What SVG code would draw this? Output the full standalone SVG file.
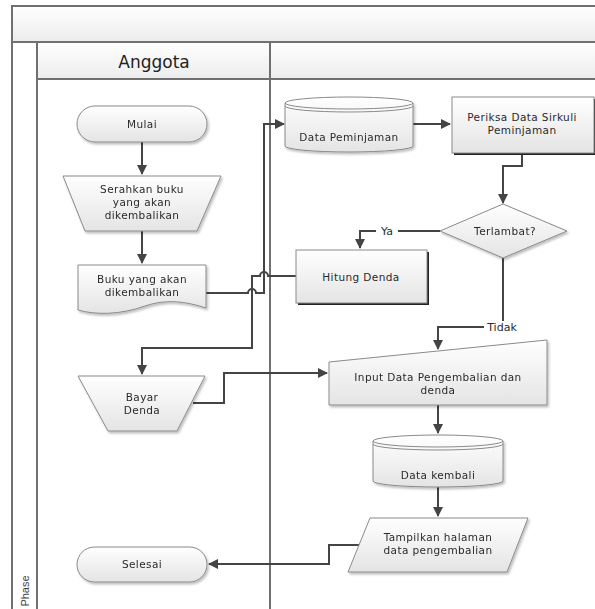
<svg xmlns="http://www.w3.org/2000/svg" width="595" height="609" viewBox="0 0 595 609">
<style>
.lane{fill:none;stroke:#707070;stroke-width:2}
.shape{fill:url(#g);stroke:#8a8a8a;stroke-width:1}
.conn{fill:none;stroke:#444;stroke-width:2}
.t{font-family:"DejaVu Sans",sans-serif;font-size:10.5px;letter-spacing:0.4px;fill:#2a2a2a;text-anchor:middle}
.lbl{font-family:"DejaVu Sans",sans-serif;font-size:11px;fill:#2a2a2a;text-anchor:middle}
</style>
<defs>
<linearGradient id="g" x1="0" y1="0" x2="0" y2="1"><stop offset="0" stop-color="#ffffff"/><stop offset="1" stop-color="#e4e4e4"/></linearGradient>
<linearGradient id="hg" x1="0" y1="0" x2="0" y2="1"><stop offset="0" stop-color="#ffffff"/><stop offset="1" stop-color="#ececec"/></linearGradient>
<marker id="a" viewBox="0 0 10 10" refX="9" refY="5" markerWidth="5" markerHeight="5" orient="auto"><path d="M0,0 L10,5 L0,10 Z" fill="#444"/></marker>
<filter id="sh" x="-10%" y="-10%" width="130%" height="140%"><feDropShadow dx="1.5" dy="2" stdDeviation="1" flood-color="#000" flood-opacity="0.25"/></filter>
</defs>
<rect width="595" height="609" fill="#fff"/>
<g id="swimlanes">
<rect x="12" y="6" width="590" height="36" fill="url(#hg)" stroke="#707070" stroke-width="2"/>
<rect x="37" y="42" width="565" height="37" fill="url(#hg)" stroke="#707070" stroke-width="2"/>
<line class="lane" x1="12" y1="6" x2="12" y2="609"/>
<line class="lane" x1="37" y1="42" x2="37" y2="609"/>
<line class="lane" x1="270" y1="42" x2="270" y2="609"/>
<text x="154" y="68" font-family="DejaVu Sans,sans-serif" font-size="17" fill="#222" text-anchor="middle">Anggota</text>
<text transform="translate(29,591) rotate(-90)" font-family="Liberation Sans Narrow,Liberation Sans,sans-serif" font-size="11" fill="#444" text-anchor="middle">Phase</text>
</g>
<g id="connectors">
<line class="conn" x1="142" y1="142" x2="142" y2="174" marker-end="url(#a)"/>
<line class="conn" x1="142" y1="231" x2="142" y2="263" marker-end="url(#a)"/>
<path class="conn" d="M206,293 H248 A4,4 0 0 1 256,293 H264 V124 H284" marker-end="url(#a)"/>
<line class="conn" x1="413" y1="124" x2="450" y2="124" marker-end="url(#a)"/>
<path class="conn" d="M522,153 V166 H503 V203" marker-end="url(#a)"/>
<path class="conn" d="M440,231 H360 V248" marker-end="url(#a)"/>
<path class="conn" d="M296,276 H268 A4,4 0 0 0 260,276 H252 V348 H142 V374" marker-end="url(#a)"/>
<path class="conn" d="M503,258 V327 H438 V349" marker-end="url(#a)"/>
<path class="conn" d="M193,403 H224 V373 H327" marker-end="url(#a)"/>
<line class="conn" x1="438" y1="405" x2="438" y2="433" marker-end="url(#a)"/>
<line class="conn" x1="438" y1="487" x2="438" y2="516" marker-end="url(#a)"/>
<path class="conn" d="M359,545 H329 V564 H209" marker-end="url(#a)"/>
<rect x="376" y="225" width="22" height="12" fill="#fff"/>
<text class="lbl" x="387" y="235">Ya</text>
<rect x="484" y="321" width="36" height="12" fill="#fff"/>
<text class="lbl" x="502" y="331">Tidak</text>
</g>
<g id="mulai" filter="url(#sh)">
<rect class="shape" x="77" y="106" width="130" height="36" rx="18"/>
<text class="t" x="142" y="128">Mulai</text>
</g>
<g id="serahkan" filter="url(#sh)">
<polygon class="shape" points="63,176 221,176 197,231 85,231"/>
<text class="t" x="142" y="193">Serahkan buku</text>
<text class="t" x="142" y="206">yang akan</text>
<text class="t" x="142" y="219">dikembalikan</text>
</g>
<g id="buku" filter="url(#sh)">
<path class="shape" d="M78,265 H206 V308 C185,301 165,299 145,306 C120,315 95,315 78,310 Z"/>
<text class="t" x="142" y="283">Buku yang akan</text>
<text class="t" x="142" y="296">dikembalikan</text>
</g>
<g id="bayar" filter="url(#sh)">
<polygon class="shape" points="78,376 205,376 177,431 108,431"/>
<text class="t" x="142" y="401">Bayar</text>
<text class="t" x="142" y="414">Denda</text>
</g>
<g id="selesai" filter="url(#sh)">
<rect class="shape" x="77" y="547" width="130" height="35" rx="17.5"/>
<text class="t" x="142" y="568">Selesai</text>
</g>
<g id="datapeminjaman" filter="url(#sh)">
<path class="shape" d="M285,103 A64,6 0 0 1 413,103 V146 A64,6 0 0 1 285,146 Z"/>
<path fill="none" stroke="#8a8a8a" d="M285,103 A64,6 0 0 0 413,103"/>
<path fill="none" stroke="#8a8a8a" d="M285,106 A64,6 0 0 0 413,106"/>
<text class="t" x="349" y="141">Data Peminjaman</text>
</g>
<g id="periksa">
<rect x="454" y="99" width="142" height="56" fill="#222"/>
<rect class="shape" x="452" y="97" width="142" height="56"/>
<text class="t" x="522" y="121">Periksa Data Sirkuli</text>
<text class="t" x="522" y="134">Peminjaman</text>
</g>
<g id="terlambat" filter="url(#sh)">
<polygon class="shape" points="440,231 503,204 567,231 503,258"/>
<text class="t" x="505" y="235">Terlambat?</text>
</g>
<g id="hitung">
<rect x="298" y="252" width="131" height="53" fill="#222"/>
<rect class="shape" x="296" y="250" width="131" height="53"/>
<text class="t" x="361" y="281">Hitung Denda</text>
</g>
<g id="input" filter="url(#sh)">
<polygon class="shape" points="329,362 547,340 547,405 329,405"/>
<text class="t" x="438" y="381">Input Data Pengembalian dan</text>
<text class="t" x="438" y="394">denda</text>
</g>
<g id="datakembali" filter="url(#sh)">
<path class="shape" d="M373,441 A65,6 0 0 1 503,441 V481 A65,6 0 0 1 373,481 Z"/>
<path fill="none" stroke="#8a8a8a" d="M373,441 A65,6 0 0 0 503,441"/>
<path fill="none" stroke="#8a8a8a" d="M373,444 A65,6 0 0 0 503,444"/>
<text class="t" x="438" y="479">Data kembali</text>
</g>
<g id="tampilkan" filter="url(#sh)">
<polygon class="shape" points="370,518 528,518 507,572 348,572"/>
<text class="t" x="438" y="541">Tampilkan halaman</text>
<text class="t" x="438" y="554">data pengembalian</text>
</g>
</svg>
